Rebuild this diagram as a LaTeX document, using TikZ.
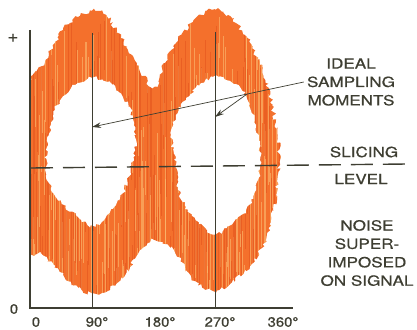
\documentclass[tikz,border=0pt]{standalone}
\usepackage{fontspec}
\setmainfont{TeX Gyre Heros}
\newfontfamily\lblfont{TeX Gyre Heros}[FakeBold=0.7]
\usetikzlibrary{decorations.pathmorphing,arrows.meta,calc}
\definecolor{ink}{RGB}{62,62,50}
\definecolor{orA}{RGB}{244,112,44}
\definecolor{orL}{RGB}{252,190,115}
\definecolor{orD}{RGB}{226,80,28}
\begin{document}
\begin{tikzpicture}[x=1pt,y=-1pt,
  lbl/.style={text=ink, font=\lblfont\fontsize{14}{18.4}\selectfont, xscale=1.22, align=center, inner sep=0pt},
  axl/.style={text=ink, font=\lblfont\fontsize{13.5}{15}\selectfont, xscale=1.1, inner sep=0pt},
  axline/.style={draw=ink, line width=1.1pt},
  ptr/.style={draw=ink, line width=0.7pt, -{Stealth[length=9pt,width=5.5pt]}},
  jag/.style={decorate, decoration={random steps, segment length=2.5pt, amplitude=#1}}]
\useasboundingbox (0,0) rectangle (417,329);
\pgfmathsetseed{7}
% noisy signal band
\begin{scope}
  \clip (30.6,0) rectangle (417,329);
  \clip[jag=2.2pt] plot[smooth cycle, tension=0.55] coordinates {
    (26,95) (45,62) (63,30) (78,17) (92,11) (106,15) (121,38) (137,63) (153,88)
    (165,63) (178,40) (193,22) (212,10) (228,15) (245,35) (260,65) (272,105)
    (279,150) (276,195) (265,240) (250,266) (232,282) (213,291) (195,281)
    (182,262) (168,245) (154,240) (140,250) (130,267) (116,284) (97,294)
    (79,288) (60,272) (43,255) (26,238)};
  \fill[orA] (0,0) rectangle (417,329);
  \foreach \i in {0,...,180} {
    \pgfmathsetmacro\xx{31+1.4*\i+rnd}
    \pgfmathsetmacro\ww{0.2+0.6*rnd}
    \pgfmathsetmacro\ya{rnd*300}
    \pgfmathsetmacro\yb{\ya+40+rnd*160}
    \draw[orL, line width=\ww pt, opacity=0.6] (\xx,\ya) -- (\xx,\yb);
  }
  \foreach \i in {0,...,180} {
    \pgfmathsetmacro\xx{31+1.4*\i+rnd}
    \pgfmathsetmacro\ww{0.3+0.7*rnd}
    \pgfmathsetmacro\ya{rnd*300}
    \pgfmathsetmacro\yb{\ya+40+rnd*160}
    \draw[orD, line width=\ww pt, opacity=0.5] (\xx,\ya) -- (\xx,\yb);
  }
\end{scope}
% eyes
\fill[white, jag=1.8pt] plot[smooth cycle, tension=0.6] coordinates {
  (46,167) (49,135) (55,110) (65,95) (78,83) (92,78) (107,82) (120,93) (131,112)
  (136,140) (131,167) (123,193) (110,212) (94,226) (78,217) (62,204) (51,188)};
\fill[white, jag=1.8pt] plot[smooth cycle, tension=0.6] coordinates {
  (176,165) (171,135) (176,115) (186,100) (199,86) (213,77) (230,81) (246,96)
  (256,125) (260,160) (256,190) (246,210) (231,225) (215,234) (199,224) (186,207) (178,187)};
% axes and sampling lines
\coordinate (ytop) at (30,30);
\coordinate (orig) at (30,308);
\coordinate (xend) at (293,308);
\coordinate (v1t) at (92,33);
\coordinate (v1b) at (92,308);
\coordinate (v2t) at (215,32);
\coordinate (v2b) at (215,308);
\draw[axline] (ytop) -- (orig) -- (xend);
\draw[axline, line width=0.9pt] (v1t) -- (v1b);
\draw[axline, line width=0.9pt] (v2t) -- (v2b);
% slicing level
\coordinate (sl0) at (31,168);
\coordinate (sl1) at (407,164);
\draw[ink, line width=1.4pt, dash pattern=on 22pt off 10pt] (sl0) -- (sl1);
% labels
\node[lbl] (ism) at (351,82) {IDEAL\\SAMPLING\\MOMENTS};
\node[lbl] (sli) at (364,152) {SLICING};
\node[lbl] (lev) at (361,179) {LEVEL};
\node[lbl] (noi) at (367,253) {NOISE\\SUPER-\\IMPOSED\\ON SIGNAL};
% arrows
\coordinate (a0) at ([xshift=-3pt]ism.west);
\coordinate (t1) at (92,127);
\coordinate (t2) at (215,117);
\coordinate (br) at ($(a0)!0.268!(t1)$);
\draw[ptr] (a0) -- (t1);
\draw[ptr] (br) -- (t2);
% axis labels
\node[axl, font=\lblfont\fontsize{17}{18}\selectfont] (plus) at (13,38) {+};
\node[axl] (zero) at (14,309) {0};
\node[axl] (x0) at (36,322) {0};
\node[axl] (x90) at (97,322) {90°};
\node[axl] (x180) at (160,322) {180°};
\node[axl] (x270) at (220,322) {270°};
\node[axl] (x360) at (283,322) {360°};
\end{tikzpicture}
\end{document}
